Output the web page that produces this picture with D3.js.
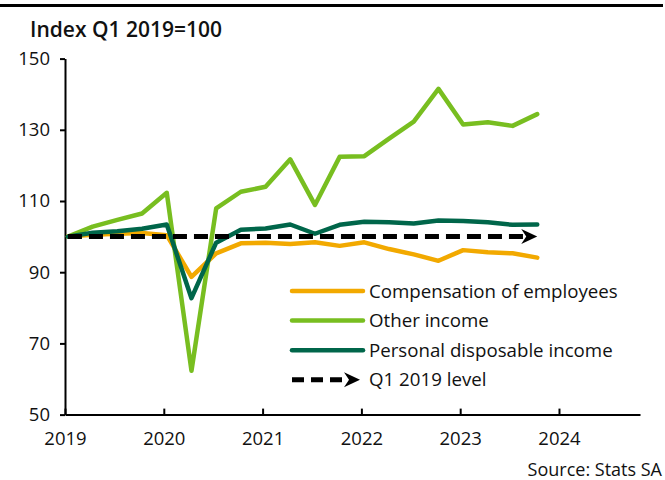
<!DOCTYPE html>
<html>
<head>
<meta charset="utf-8">
<script src="https://cdn.jsdelivr.net/npm/d3@7"></script>
<style>
  body { margin: 0; background: #fff; }
  svg text { font-family: "Open Sans", sans-serif; fill: #111; }
</style>
</head>
<body>
<div id="chart"></div>
<script>
// Quarterly index, Q1 2019 = 100
const quarters = ["2019Q1","2019Q2","2019Q3","2019Q4","2020Q1","2020Q2","2020Q3","2020Q4",
                  "2021Q1","2021Q2","2021Q3","2021Q4","2022Q1","2022Q2","2022Q3","2022Q4",
                  "2023Q1","2023Q2","2023Q3","2023Q4"];
const compensation = [100, 100.5, 100.8, 101.0, 100.4, 88.7, 95.3, 98.1, 98.3, 97.9,
                      98.4, 97.4, 98.4, 96.5, 95.0, 93.2, 96.2, 95.6, 95.3, 94.1];
const otherIncome = [100, 102.8, 104.7, 106.5, 112.3, 62.3, 107.9, 112.6, 114.0, 121.7,
                     108.9, 122.4, 122.6, 127.5, 132.3, 141.5, 131.5, 132.1, 131.1, 134.4];
const disposable = [100, 101.1, 101.5, 102.2, 103.4, 82.7, 98.3, 101.9, 102.3, 103.4,
                    100.8, 103.3, 104.2, 104.0, 103.7, 104.5, 104.4, 104.0, 103.3, 103.4];
const baseLevel = 100;

const yTicks = [50, 70, 90, 110, 130, 150];
const xTicks = [2019, 2020, 2021, 2022, 2023, 2024];
const seriesNames = ["Compensation of employees", "Other income", "Personal disposable income"];
const seriesColors = ["#f2a900", "#78be20", "#00664a"];
const levelName = "Q1 2019 level";

const width = 665, height = 480;
const margin = { left: 65, right: 25, top: 58.6, bottom: 65.4 };

const svg = d3.select("#chart").append("svg")
    .attr("width", width)
    .attr("height", height);

svg.append("rect").attr("width", width).attr("height", height).attr("fill", "#fff");

// top rule
svg.append("line")
    .attr("x1", 0).attr("x2", 663)
    .attr("y1", 5.5).attr("y2", 5.5)
    .attr("stroke", "#000").attr("stroke-width", 3);

svg.append("text")
    .attr("x", 30).attr("y", 37)
    .attr("font-size", 21).attr("font-weight", 600)
    .text("Index Q1 2019=100");

// decimal year for a quarter label (points sit slightly after quarter start)
const qToYear = q => +q.slice(0, 4) + (+q.slice(5) - 1) / 4 + 0.03;

const x = d3.scaleLinear()
    .domain([2019, 2024.82])
    .range([margin.left, width - margin.right]);

const y = d3.scaleLinear()
    .domain([50, 150])
    .range([height - margin.bottom, margin.top]);

// axes
const yAxis = svg.append("g")
    .attr("transform", `translate(${margin.left},0)`)
    .call(d3.axisLeft(y).tickValues(yTicks).tickSize(5).tickSizeOuter(0).tickPadding(10));

const xAxis = svg.append("g")
    .attr("transform", `translate(0,${height - margin.bottom})`)
    .call(d3.axisBottom(x).tickValues(xTicks).tickFormat(d3.format("d"))
        .tickSize(-6).tickSizeOuter(0).tickPadding(17));

[yAxis, xAxis].forEach(g => {
    g.select(".domain").attr("stroke", "#000").attr("stroke-width", 2);
    g.selectAll(".tick line").attr("stroke", "#000").attr("stroke-width", 2);
    g.selectAll(".tick text").attr("font-size", 18.5).attr("font-family", "Open Sans").attr("fill", "#111");
});

// series lines
const line = d3.line()
    .x((d, i) => x(qToYear(quarters[i])))
    .y(d => y(d));

[compensation, otherIncome, disposable].forEach((vals, k) => {
    svg.append("path")
        .datum(vals)
        .attr("d", line)
        .attr("fill", "none")
        .attr("stroke", seriesColors[k])
        .attr("stroke-width", 4.5)
        .attr("stroke-linejoin", "round")
        .attr("stroke-linecap", "round");
});

// Q1 2019 level dashed arrow
function arrowHead(tx, ty) {
    return `M${tx},${ty} L${tx - 16},${ty - 7.5} L${tx - 11},${ty} L${tx - 16},${ty + 7.5} Z`;
}

const xStart = x(qToYear(quarters[0]));
const xEnd = x(qToYear(quarters[quarters.length - 1]));
svg.append("line")
    .attr("x1", xStart).attr("x2", xEnd - 10)
    .attr("y1", y(baseLevel)).attr("y2", y(baseLevel))
    .attr("stroke", "#000").attr("stroke-width", 5)
    .attr("stroke-dasharray", "14,7");
svg.append("path")
    .attr("d", arrowHead(xEnd, y(baseLevel)))
    .attr("fill", "#000");

// legend
const lg = svg.append("g").attr("transform", "translate(292,291)");
const rowH = 29.6;
seriesNames.forEach((name, k) => {
    lg.append("line")
        .attr("x1", 0).attr("x2", 71)
        .attr("y1", k * rowH).attr("y2", k * rowH)
        .attr("stroke", seriesColors[k]).attr("stroke-width", 4.5)
        .attr("stroke-linecap", "round");
    lg.append("text")
        .attr("x", 77).attr("y", k * rowH).attr("dy", "0.35em")
        .attr("font-size", 18.7)
        .text(name);
});
const ly = seriesNames.length * rowH;
lg.append("line")
    .attr("x1", 0).attr("x2", 60)
    .attr("y1", ly).attr("y2", ly)
    .attr("stroke", "#000").attr("stroke-width", 5)
    .attr("stroke-dasharray", "12,7");
lg.append("path").attr("d", arrowHead(68, ly)).attr("fill", "#000");
lg.append("text")
    .attr("x", 77).attr("y", ly).attr("dy", "0.35em")
    .attr("font-size", 18.7)
    .text(levelName);

// source
svg.append("text")
    .attr("x", 662).attr("y", 476)
    .attr("text-anchor", "end")
    .attr("font-size", 18)
    .text("Source: Stats SA");
</script>
</body>
</html>
